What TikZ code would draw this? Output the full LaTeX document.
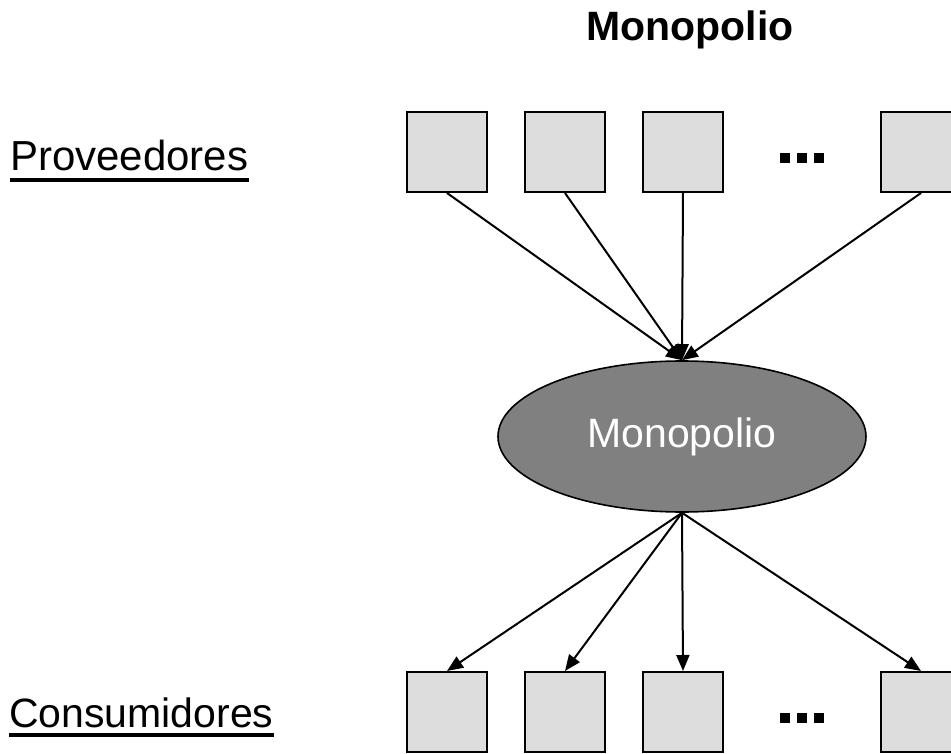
\documentclass[tikz,border=0pt]{standalone}
\usepackage{fontspec}
\setmainfont{Liberation Sans}
\usetikzlibrary{shapes.geometric,arrows.meta}
\definecolor{boxgray}{RGB}{221,221,221}
\definecolor{ellgray}{RGB}{128,128,128}
\tikzset{
  firm/.style={draw=black, line width=2pt, fill=boxgray, minimum width=80pt, minimum height=80pt, inner sep=0pt},
  mono/.style={ellipse, draw=black, line width=1.6pt, fill=ellgray, minimum width=368pt, minimum height=151pt, inner sep=0pt, text=white, font=\fontsize{41}{48}\selectfont},
  lbl/.style={anchor=base west, inner sep=0pt, font=\fontsize{41}{48}\selectfont},
  flow/.style={line width=2pt, -{Triangle[length=16pt,width=13pt]}},
  dot/.style={fill=black}
}
\begin{document}
\begin{tikzpicture}[x=1pt,y=-1pt]
\useasboundingbox (0,0) rectangle (951,754);
% title
\node[font=\bfseries\fontsize{41}{48}\selectfont, inner sep=0pt, anchor=base] (title) at (690,41) {Monopolio};
% side labels
\node[lbl, font=\fontsize{42}{48}\selectfont] (prov) at (10,171) {Proveedores};
\draw[line width=4pt] ([yshift=-9pt]prov.base west) -- ([yshift=-9pt]prov.base east);
\node[lbl] (cons) at (9,727) {Consumidores};
\draw[line width=4pt] ([yshift=-8pt]cons.base west) -- ([yshift=-8pt]cons.base east);
% suppliers
\node[firm] (p1) at (447,152) {};
\node[firm] (p2) at (565,152) {};
\node[firm] (p3) at (683,152) {};
\node[firm] (p4) at (921,152) {};
% consumers
\node[firm] (c1) at (447,712) {};
\node[firm] (c2) at (565,712) {};
\node[firm] (c3) at (683,712) {};
\node[firm] (c4) at (921,712) {};
% dots
\foreach \xx in {785,802,819}{
  \fill[dot] (\xx-5,153) rectangle (\xx+5,163);
  \fill[dot] (\xx-5,713) rectangle (\xx+5,723);
}
% monopoly
\node[mono] (m) at (682,436.5) {Monopolio};
% arrows
\foreach \n in {p1,p2,p3,p4}{
  \draw[flow] (\n.south) -- (m.north);
}
\foreach \n in {c1,c2,c3,c4}{
  \draw[flow] (m.south) -- (\n.north);
}
\end{tikzpicture}
\end{document}
